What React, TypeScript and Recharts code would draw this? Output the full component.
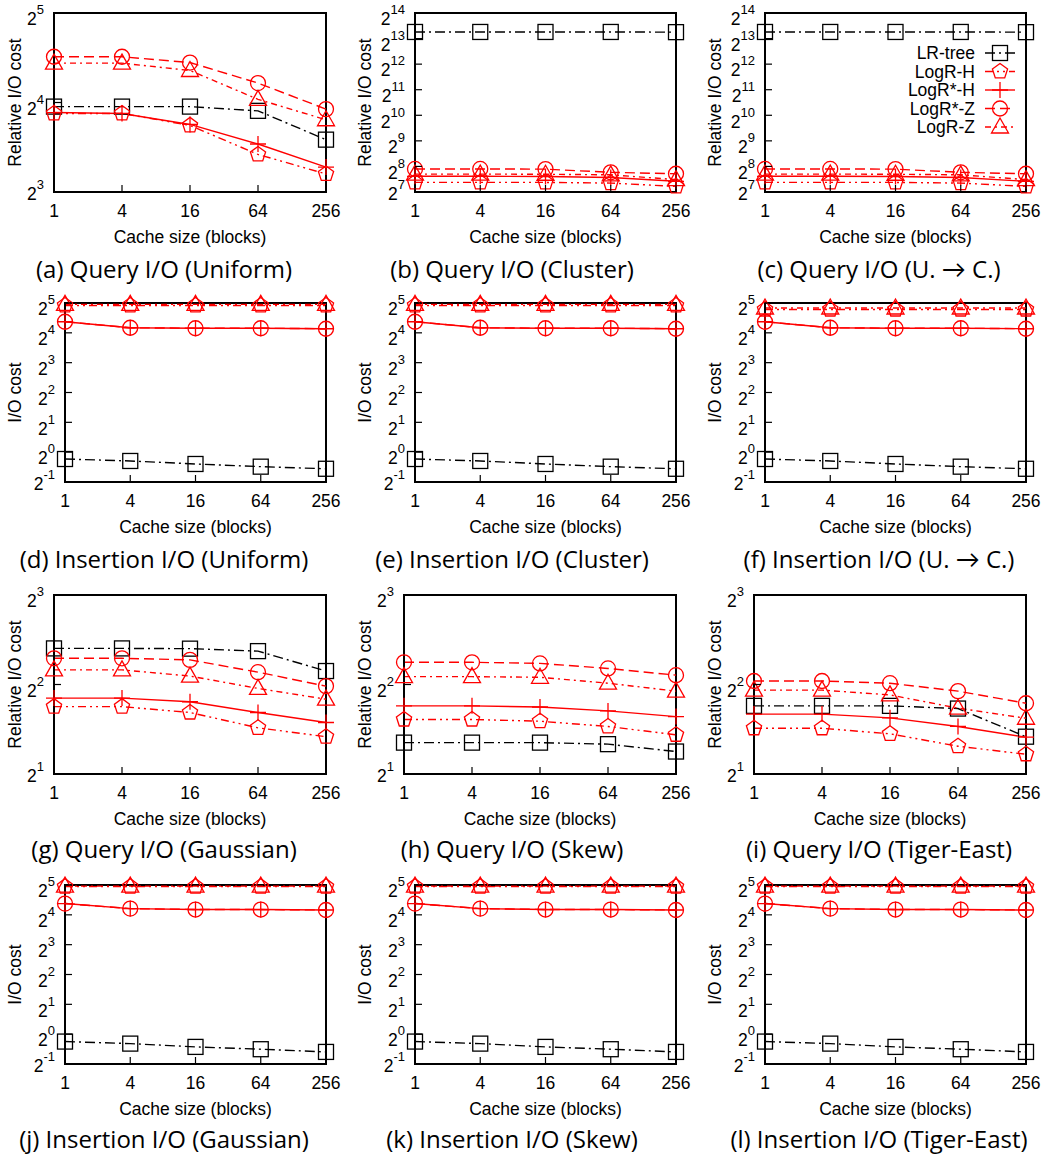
import { LineChart, Line, XAxis, YAxis, Legend, Label, ReferenceArea } from 'recharts'

const FONT = "'Liberation Sans', Arial, Helvetica, sans-serif"
const CAPTION_FONT = "'Open Sans', Lato, sans-serif"
const RED = '#ff0000'

const cacheSizes = ['1', '4', '16', '64', '256']
const seriesNames = ['LR-tree', 'LogR-H', 'LogR*-H', 'LogR*-Z', 'LogR-Z']

// one row per series, same order as seriesNames
const queryUniform = [
  [15.5, 15.5, 15.5, 15.0, 12.0],
  [14.7, 14.7, 13.4, 10.7, 9.2],
  [14.8, 14.7, 13.5, 11.6, 9.7],
  [22.8, 22.8, 21.8, 18.6, 15.2],
  [21.7, 21.7, 20.5, 16.4, 14.0],
]
const queryCluster = [
  [9800, 9800, 9800, 9800, 9750],
  [166, 166, 166, 163, 149],
  [196, 196, 195, 190, 171],
  [239, 239, 238, 218, 210],
  [208, 208, 207, 204, 179],
]
const queryShift = [
  [9800, 9800, 9800, 9800, 9750],
  [166, 166, 166, 163, 149],
  [196, 196, 195, 190, 171],
  [239, 239, 238, 218, 210],
  [208, 208, 207, 204, 179],
]
const insertUniform = [
  [0.853, 0.815, 0.76, 0.714, 0.68],
  [30.2, 30.2, 30.2, 30.2, 30.2],
  [20.7, 18.0, 17.8, 17.8, 17.6],
  [20.7, 18.0, 17.8, 17.8, 17.6],
  [31.0, 31.0, 31.0, 31.0, 31.0],
]
const insertCluster = [
  [0.853, 0.815, 0.76, 0.714, 0.68],
  [30.2, 30.2, 30.2, 30.2, 30.2],
  [20.7, 18.0, 17.8, 17.8, 17.6],
  [20.7, 18.0, 17.8, 17.8, 17.6],
  [31.0, 31.0, 31.0, 31.0, 31.0],
]
const insertShift = [
  [0.853, 0.815, 0.76, 0.714, 0.68],
  [27.5, 27.5, 27.5, 27.5, 27.5],
  [20.7, 18.0, 17.8, 17.8, 17.6],
  [20.7, 18.0, 17.8, 17.8, 17.6],
  [28.5, 28.5, 28.5, 28.5, 28.5],
]
const queryGaussian = [
  [5.29, 5.29, 5.28, 5.18, 4.44],
  [3.37, 3.37, 3.22, 2.86, 2.67],
  [3.6, 3.6, 3.5, 3.22, 2.98],
  [4.9, 4.9, 4.84, 4.4, 3.95],
  [4.48, 4.48, 4.27, 3.88, 3.57],
]
const querySkew = [
  [2.55, 2.55, 2.55, 2.52, 2.38],
  [3.05, 3.05, 3.01, 2.89, 2.71],
  [3.39, 3.39, 3.36, 3.26, 3.12],
  [4.75, 4.75, 4.71, 4.53, 4.3],
  [4.25, 4.25, 4.23, 4.04, 3.8],
]
const queryTiger = [
  [3.39, 3.39, 3.39, 3.32, 2.67],
  [2.85, 2.85, 2.73, 2.48, 2.33],
  [3.18, 3.18, 3.09, 2.89, 2.66],
  [4.11, 4.11, 4.04, 3.8, 3.46],
  [3.83, 3.83, 3.69, 3.33, 3.08],
]
const insertGaussian = [
  [0.842, 0.803, 0.744, 0.705, 0.662],
  [30.8, 30.8, 30.8, 30.8, 30.8],
  [20.8, 18.5, 18.1, 18.1, 17.9],
  [20.8, 18.5, 18.1, 18.1, 17.9],
  [31.2, 31.2, 31.2, 31.2, 31.2],
]
const insertSkew = [
  [0.842, 0.803, 0.744, 0.705, 0.662],
  [30.8, 30.8, 30.8, 30.8, 30.8],
  [20.8, 18.5, 18.1, 18.1, 17.9],
  [20.8, 18.5, 18.1, 18.1, 17.9],
  [31.2, 31.2, 31.2, 31.2, 31.2],
]
const insertTiger = [
  [0.842, 0.803, 0.744, 0.705, 0.662],
  [30.8, 30.8, 30.8, 30.8, 30.8],
  [20.8, 18.5, 18.1, 18.1, 17.9],
  [20.8, 18.5, 18.1, 18.1, 17.9],
  [31.2, 31.2, 31.2, 31.2, 31.2],
]

// y tick exponents (labels are 2^e)
const expsUniform = [3, 4, 5]
const expsCluster = [7, 8, 9, 10, 11, 12, 13, 14]
const expsInsert = [-1, 0, 1, 2, 3, 4, 5]
const expsSmall = [1, 2, 3]

const captions = [
  '(a) Query I/O (Uniform)',
  '(b) Query I/O (Cluster)',
  '(c) Query I/O (U. \u2192 C.)',
  '(d) Insertion I/O (Uniform)',
  '(e) Insertion I/O (Cluster)',
  '(f) Insertion I/O (U. \u2192 C.)',
  '(g) Query I/O (Gaussian)',
  '(h) Query I/O (Skew)',
  '(i) Query I/O (Tiger-East)',
  '(j) Insertion I/O (Gaussian)',
  '(k) Insertion I/O (Skew)',
  '(l) Insertion I/O (Tiger-East)',
]

const panelValues = [
  queryUniform, queryCluster, queryShift,
  insertUniform, insertCluster, insertShift,
  queryGaussian, querySkew, queryTiger,
  insertGaussian, insertSkew, insertTiger,
]
const panelExps = [
  expsUniform, expsCluster, expsCluster,
  expsInsert, expsInsert, expsInsert,
  expsSmall, expsSmall, expsSmall,
  expsInsert, expsInsert, expsInsert,
]

const seriesStyle = [
  { color: '#000000', dash: '10 4 2 4', shape: 'square' },
  { color: RED, dash: '8 4 2 4 2 4', shape: 'pentagon' },
  { color: RED, dash: undefined, shape: 'plus' },
  { color: RED, dash: '10 5', shape: 'circle' },
  { color: RED, dash: '6 4 2 4', shape: 'triangle' },
]

const captionCenter = [164, 162, 179]
const axisStyle = { stroke: '#000', strokeWidth: 2 }

function Marker({ shape, cx, cy, color }: any) {
  if (cx == null || cy == null) return null
  const common = { fill: 'none', stroke: color, strokeWidth: 1.3 }
  if (shape === 'square') return <rect x={cx - 7.5} y={cy - 7.5} width={15} height={15} {...common} />
  if (shape === 'circle') return <circle cx={cx} cy={cy} r={7.5} {...common} />
  if (shape === 'plus') return <path d={`M${cx - 8},${cy}H${cx + 8}M${cx},${cy - 8}V${cy + 8}`} {...common} />
  if (shape === 'triangle')
    return <path d={`M${cx},${cy - 9}L${cx + 8.5},${cy + 6}L${cx - 8.5},${cy + 6}Z`} {...common} />
  const pts = [0, 1, 2, 3, 4]
    .map((k) => {
      const a = -Math.PI / 2 + (k * 2 * Math.PI) / 5
      return `${cx + 8 * Math.cos(a)},${cy + 8 * Math.sin(a)}`
    })
    .join(' ')
  return <polygon points={pts} {...common} />
}

const makeDot = (shape: string, color: string) => (p: any) => (
  <Marker key={`${shape}-${p.index}`} shape={shape} cx={p.cx} cy={p.cy} color={color} />
)

function PowTick(props: any) {
  const { x, y, payload, side, index } = props
  const exp = Math.round(Math.log2(payload.value))
  if (side === 'right') return <path d={`M${x},${y}H${x - 7}`} stroke="#000" strokeWidth={1.2} />
  // gnuplot sets the "2" slightly below the tick, except for the lowest one
  const shift = index === 0 ? 2 : 6
  return (
    <g>
      <path d={`M${x},${y}H${x + 7}`} stroke="#000" strokeWidth={1.2} />
      <text x={x - 10} y={y + shift} textAnchor="end" fontSize={17.5} fontFamily={FONT} fill="#000">
        <tspan dy="0.36em">2</tspan>
        <tspan dy={-11} fontSize={13}>
          {exp}
        </tspan>
      </text>
    </g>
  )
}

function CacheTick(props: any) {
  const { x, y, payload, side } = props
  if (side === 'top') return <path d={`M${x},${y}V${y + 7}`} stroke="#000" strokeWidth={1.2} />
  return (
    <g>
      <path d={`M${x},${y}V${y - 7}`} stroke="#000" strokeWidth={1.2} />
      <text x={x} y={y + 25} textAnchor="middle" fontSize={17.5} fontFamily={FONT} fill="#000">
        {payload.value}
      </text>
    </g>
  )
}

function LegendBox() {
  return (
    <svg width={180} height={100}>
      {seriesNames.map((name, i) => {
        const st = seriesStyle[i]
        const y = 13 + i * 18.5
        return (
          <g key={name}>
            <text x={125} y={y} dy="0.36em" textAnchor="end" fontSize={17.5} fontFamily={FONT} fill="#000">
              {name}
            </text>
            <path d={`M135,${y}H165`} stroke={st.color} strokeDasharray={st.dash} strokeWidth={1.4} fill="none" />
            <Marker shape={st.shape} cx={150} cy={y} color={st.color} />
          </g>
        )
      })}
    </svg>
  )
}

function Panel({ index }: { index: number }) {
  const row = Math.floor(index / 3)
  const col = index % 3
  const values = panelValues[index]
  const exps = panelExps[index]
  const ticks = exps.map((e) => 2 ** e)
  const domain = [ticks[0], ticks[ticks.length - 1]]
  const isQuery = captions[index].includes('Query')
  const wideLabels = exps[exps.length - 1] > 9 || exps[0] < 0
  const yWidth = wideLabels ? 65 : 54
  const plotTop = row < 2 ? 13 : 15
  const data = cacheSizes.map((c, i) => {
    const r: any = { cache: c }
    values.forEach((vals, s) => {
      r['s' + s] = vals[i]
    })
    return r
  })

  return (
    <div style={{ position: 'absolute', left: col * 350, top: row * 290, width: 350, height: 290 }}>
      <LineChart width={350} height={plotTop + 179 + 60} data={data} margin={{ top: plotTop, right: 24, bottom: 0, left: 0 }}>
        <XAxis
          dataKey="cache"
          interval={0}
          height={60}
          tickSize={0}
          tickMargin={0}
          tickLine={false}
          axisLine={axisStyle}
          tick={<CacheTick />}
        >
          <Label value="Cache size (blocks)" position="insideBottom" offset={9} fontSize={17.5} fontFamily={FONT} fill="#000" />
        </XAxis>
        <XAxis
          xAxisId="top"
          orientation="top"
          dataKey="cache"
          interval={0}
          height={0}
          tickSize={0}
          tickMargin={0}
          tickLine={false}
          axisLine={axisStyle}
          tick={<CacheTick side="top" />}
        />
        <YAxis
          type="number"
          scale="log"
          domain={domain}
          ticks={ticks}
          interval={0}
          width={yWidth}
          tickSize={0}
          tickMargin={0}
          tickLine={false}
          axisLine={axisStyle}
          tick={<PowTick />}
        >
          <Label
            value={isQuery ? 'Relative I/O cost' : 'I/O cost'}
            angle={-90}
            position="insideLeft"
            offset={15}
            fontSize={17.5}
            fontFamily={FONT}
            fill="#000"
            style={{ textAnchor: 'middle' }}
          />
        </YAxis>
        <YAxis
          yAxisId="right"
          orientation="right"
          type="number"
          scale="log"
          domain={domain}
          ticks={ticks}
          interval={0}
          width={0}
          tickSize={0}
          tickMargin={0}
          tickLine={false}
          axisLine={axisStyle}
          tick={<PowTick side="right" />}
        />
        <ReferenceArea
          x1={cacheSizes[0]}
          x2={cacheSizes[cacheSizes.length - 1]}
          y1={domain[0]}
          y2={domain[1]}
          fill="none"
          fillOpacity={0}
          stroke="#000"
          strokeWidth={2}
          ifOverflow="visible"
        />
        {seriesNames.map((name, s) => (
          <Line
            key={name}
            name={name}
            dataKey={'s' + s}
            stroke={seriesStyle[s].color}
            strokeDasharray={seriesStyle[s].dash}
            strokeWidth={1.4}
            dot={makeDot(seriesStyle[s].shape, seriesStyle[s].color)}
            activeDot={false}
            isAnimationActive={false}
          />
        ))}
        {index === 2 && (
          <Legend
            layout="vertical"
            align="center"
            verticalAlign="middle"
            content={<LegendBox />}
            wrapperStyle={{ position: 'absolute', left: 150, top: 40, width: 180, height: 100 }}
          />
        )}
      </LineChart>
      <div
        style={{
          position: 'absolute',
          left: captionCenter[col] - 200,
          width: 400,
          top: 255.7,
          textAlign: 'center',
          fontFamily: CAPTION_FONT,
          fontSize: 24,
          lineHeight: '26px',
          color: '#000',
          whiteSpace: 'nowrap',
        }}
      >
        {captions[index]}
      </div>
    </div>
  )
}

export default function App() {
  return (
    <div style={{ position: 'absolute', left: 0, top: 0, width: 1053, height: 1163, background: '#fff' }}>
      {captions.map((_, i) => (
        <Panel key={i} index={i} />
      ))}
    </div>
  )
}
